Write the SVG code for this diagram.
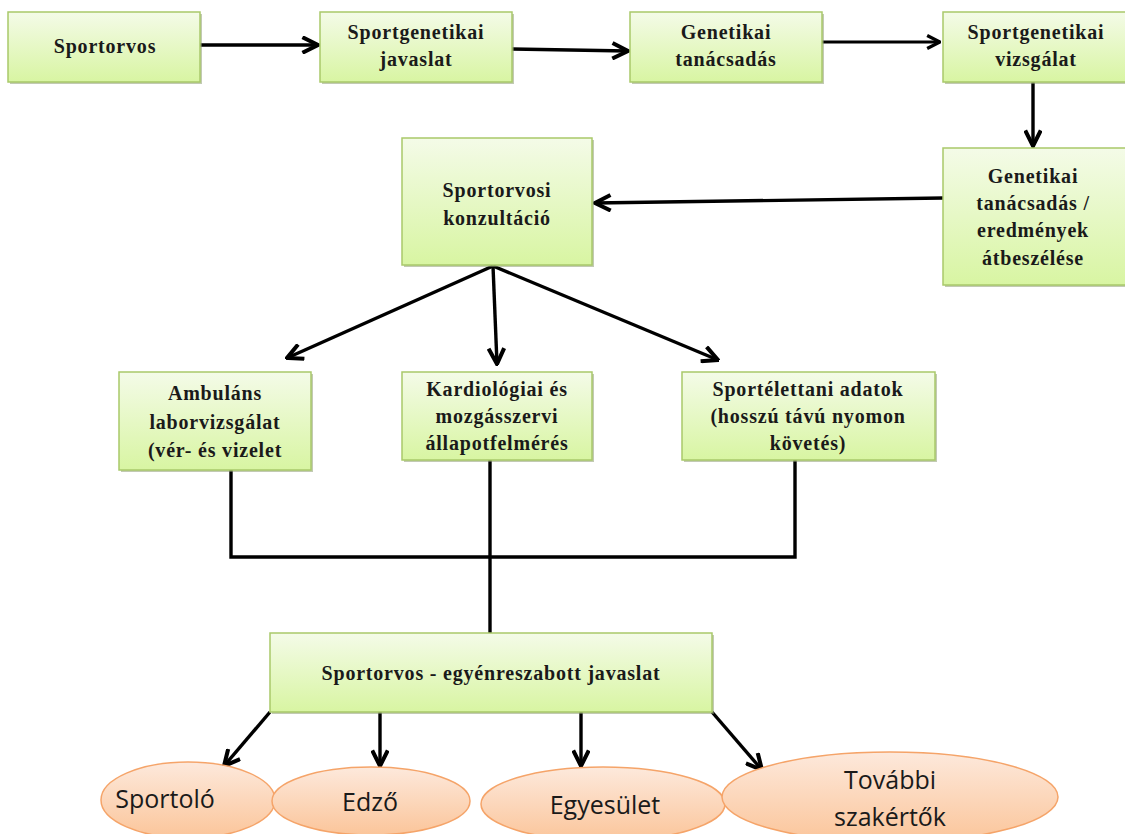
<svg xmlns="http://www.w3.org/2000/svg" width="1125" height="834" viewBox="0 0 1125 834">
<defs>
<linearGradient id="g" x1="0" y1="0" x2="0" y2="1">
<stop offset="0" stop-color="#f4fbe8"/>
<stop offset="1" stop-color="#d8f5a2"/>
</linearGradient>
<linearGradient id="o" x1="0" y1="0" x2="0" y2="1">
<stop offset="0" stop-color="#fde9dc"/>
<stop offset="1" stop-color="#fbc59a"/>
</linearGradient>
<marker id="a" viewBox="0 0 12 12" refX="11" refY="6" markerWidth="5.5" markerHeight="5.5" orient="auto" markerUnits="strokeWidth">
<path d="M1,1 L11,6 L1,11" fill="none" stroke="#000" stroke-width="2.6" stroke-linejoin="miter"/>
</marker>
<style>
.box{fill:url(#g);stroke:#a9c96a;stroke-width:1.5}
.sh{fill:#8f9f74;opacity:0.55}
.el{fill:url(#o);stroke:#f5a469;stroke-width:1.5}
.t{font-family:"Liberation Serif","Times New Roman",serif;font-size:20px;font-weight:bold;fill:#1a1a1a;text-anchor:middle;letter-spacing:0.8px}
.e{font-family:"Open Sans","Liberation Sans",sans-serif;font-size:25px;fill:#1a1a1a;text-anchor:middle}
.c{fill:none;stroke:#000;stroke-width:3.4}
.ca{fill:none;stroke:#000;stroke-width:3.4;marker-end:url(#a)}
</style>
</defs>
<g id="connectors">
<line class="ca" x1="200" y1="45" x2="318" y2="45"/>
<line class="ca" x1="512" y1="49" x2="628" y2="51"/>
<line class="ca" x1="822" y1="42" x2="940" y2="42" style="stroke-width:2.8"/>
<line class="ca" x1="1033" y1="82" x2="1033" y2="146"/>
<line class="ca" x1="943" y1="198" x2="595" y2="203"/>
<line class="ca" x1="493" y1="266" x2="287" y2="358"/>
<line class="ca" x1="493" y1="266" x2="497" y2="364"/>
<line class="ca" x1="493" y1="266" x2="718" y2="360"/>
<polyline class="c" points="231,470 231,557 795,557 795,460"/>
<line class="c" x1="490" y1="460" x2="490" y2="633"/>
<line class="ca" x1="270" y1="712" x2="224" y2="766"/>
<line class="ca" x1="380" y1="712" x2="380" y2="766"/>
<line class="ca" x1="581" y1="712" x2="581" y2="766"/>
<line class="ca" x1="712" y1="712" x2="762" y2="770"/>
</g>
<g id="n1"><rect class="sh" x="10" y="14" width="192" height="70"/><rect class="box" x="8" y="12" width="192" height="70"/><text class="t" x="105" y="53">Sportorvos</text></g>
<g id="n2"><rect class="sh" x="322" y="14" width="192" height="70"/><rect class="box" x="320" y="12" width="192" height="70"/><text class="t" x="416" y="39">Sportgenetikai</text><text class="t" x="416" y="66">javaslat</text></g>
<g id="n3"><rect class="sh" x="632" y="14" width="192" height="70"/><rect class="box" x="630" y="12" width="192" height="70"/><text class="t" x="726" y="39">Genetikai</text><text class="t" x="726" y="66">tanácsadás</text></g>
<g id="n4"><rect class="sh" x="945" y="14" width="182" height="70"/><rect class="box" x="943" y="12" width="184" height="70"/><text class="t" x="1036" y="39">Sportgenetikai</text><text class="t" x="1036" y="66">vizsgálat</text></g>
<g id="n5"><rect class="sh" x="945" y="150" width="182" height="137"/><rect class="box" x="943" y="148" width="184" height="137"/><text class="t" x="1033" y="183">Genetikai</text><text class="t" x="1033" y="210">tanácsadás /</text><text class="t" x="1033" y="237">eredmények</text><text class="t" x="1033" y="265">átbeszélése</text></g>
<g id="n6"><rect class="sh" x="404" y="140" width="190" height="127"/><rect class="box" x="402" y="138" width="190" height="127"/><text class="t" x="497" y="197">Sportorvosi</text><text class="t" x="497" y="225">konzultáció</text></g>
<g id="n7"><rect class="sh" x="121" y="374" width="192" height="98"/><rect class="box" x="119" y="372" width="192" height="98"/><text class="t" x="215" y="400">Ambuláns</text><text class="t" x="215" y="429">laborvizsgálat</text><text class="t" x="215" y="457">(vér- és vizelet</text></g>
<g id="n8"><rect class="sh" x="404" y="374" width="190" height="88"/><rect class="box" x="402" y="372" width="190" height="88"/><text class="t" x="497" y="396">Kardiológiai és</text><text class="t" x="497" y="423">mozgásszervi</text><text class="t" x="497" y="450">állapotfelmérés</text></g>
<g id="n9"><rect class="sh" x="684" y="374" width="253" height="88"/><rect class="box" x="682" y="372" width="253" height="88"/><text class="t" x="808" y="396">Sportélettani adatok</text><text class="t" x="808" y="423">(hosszú távú nyomon</text><text class="t" x="808" y="450">követés)</text></g>
<g id="n10"><rect class="sh" x="272" y="635" width="442" height="79"/><rect class="box" x="270" y="633" width="442" height="79"/><text class="t" x="491" y="680">Sportorvos - egyénreszabott javaslat</text></g>
<g id="e1"><ellipse class="el" cx="188" cy="800" rx="87" ry="38"/><text class="e" x="165" y="808">Sportoló</text></g>
<g id="e2"><ellipse class="el" cx="371" cy="801" rx="99" ry="34"/><text class="e" x="370" y="811">Edző</text></g>
<g id="e3"><ellipse class="el" cx="603" cy="804" rx="122" ry="37"/><text class="e" x="605" y="814">Egyesület</text></g>
<g id="e4"><ellipse class="el" cx="890" cy="797" rx="168" ry="45"/><text class="e" x="890" y="789">További</text><text class="e" x="890" y="826">szakértők</text></g>
</svg>
